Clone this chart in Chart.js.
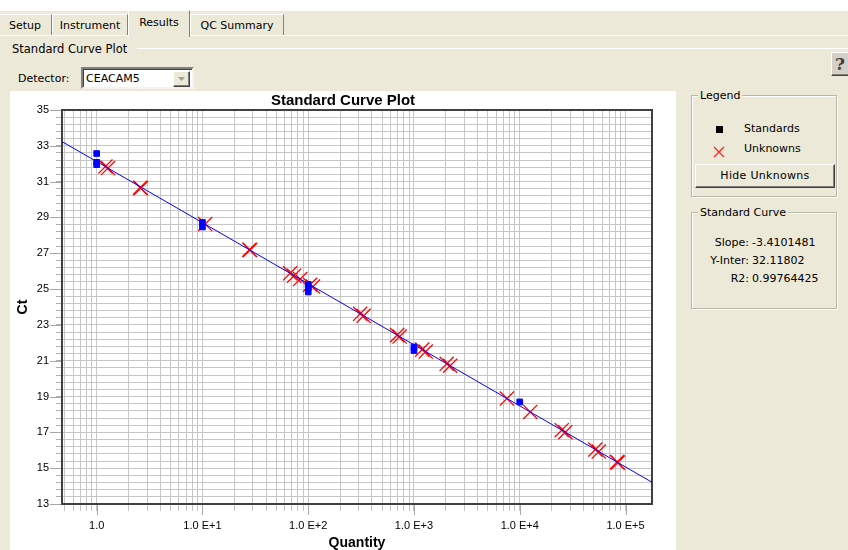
<!DOCTYPE html>
<html lang="en">
<head>
  <meta charset="UTF-8" />
  <title>Standard Curve Plot</title>
  <script src="https://cdn.jsdelivr.net/npm/chart.js"></script>
  <style>
    body {
      margin: 0;
      width: 848px;
      height: 550px;
      overflow: hidden;
      position: relative;
      background: #ece9d8;
      font-family: 'DejaVu Sans', sans-serif;
      font-size: 11px;
      color: #000;
    }
    .abs { position: absolute; }
    .topstrip { left: 0; top: 0; width: 848px; height: 11px; background: #fff; }
    .tab {
      top: 14px; height: 21px; line-height: 21px; text-align: center;
      border-top: 1px solid #fff; border-left: 1px solid #fff; border-right: 1px solid #808080;
      box-sizing: border-box; white-space: nowrap;
    }
    .tab.sel { top: 10px; height: 27px; line-height: 24px; background: #ece9d8; z-index: 2; }
    .hline { height: 1px; background: #fff; }
    .group {
      box-sizing: border-box;
      border: 1px solid #b9b8a8;
      box-shadow: inset 1px 1px 0 #fff, 1px 1px 0 #fff;
    }
    .glabel { background: #ece9d8; padding: 0 2px; line-height: 13px; }
    .btn {
      box-sizing: border-box; background: #ece9d8; text-align: center;
      border: 1px solid; border-color: #fff #404040 #404040 #fff;
      box-shadow: inset -1px -1px 0 #808080;
    }
    .combo {
      left: 81px; top: 67px; width: 113px; height: 22px; box-sizing: border-box; background: #fff;
      border: 2px solid; border-color: #808080 #f4f3ee #f4f3ee #808080;
      box-shadow: inset 1px 1px 0 #404040;
    }
    .combo span { position: absolute; left: 3px; top: 3px; }
    .drop { left: 90px; top: 2px; width: 17px; height: 16px; }
    #panel { left: 10px; top: 91px; width: 666px; height: 459px; background: #fff; }
    .row { left: 691px; width: 146px; }
    .row b { font-weight: normal; position: absolute; right: 88px; }
    .row i { font-style: normal; position: absolute; left: 61px; }
  </style>
</head>
<body>
  <!-- tab strip -->
  <div class="abs topstrip"></div>
  <div class="abs hline" style="left:0; top:35px; width:848px;"></div>
  <div class="abs tab" style="left:-2px; width:54px;">Setup</div>
  <div class="abs tab" style="left:52px; width:76px;">Instrument</div>
  <div class="abs tab sel" style="left:128px; width:62px;">Results</div>
  <div class="abs tab" style="left:190px; width:94px;">QC Summary</div>

  <!-- plot group -->
  <div class="abs hline" style="left:137px; top:48px; width:711px;"></div>
  <div class="abs" style="left:12px; top:42px; font-size:11.5px;">Standard Curve Plot</div>
  <div class="abs" style="left:18px; top:72px;">Detector:</div>
  <div class="abs combo">
    <span>CEACAM5</span>
    <div class="abs btn drop">
      <svg width="15" height="14" style="position:absolute;left:0;top:0">
        <path d="M4 5 L11 5 L7.5 9 Z" fill="#a0a0a0" />
      </svg>
    </div>
  </div>
  <div class="abs btn" style="left:831px; top:52px; width:22px; height:24px; background:#d4d0c8;">
    <span style="font: bold 17px 'DejaVu Serif', serif; color:#404040; position:absolute; left:3px; top:1px;">?</span>
  </div>

  <div id="panel" class="abs">
    <canvas id="curve" width="666" height="459"></canvas>
  </div>

  <!-- Legend -->
  <div class="abs group" style="left:691px; top:95px; width:146px; height:102px;"></div>
  <div class="abs glabel" style="left:698px; top:89px;">Legend</div>
  <div class="abs" style="left:716px; top:126px; width:7px; height:7px; background:#000;"></div>
  <div class="abs" style="left:744px; top:122px;">Standards</div>
  <svg class="abs" style="left:713px; top:146px;" width="12" height="12">
    <path d="M1 1 L11 11 M11 1 L1 11" stroke="#ff2020" stroke-width="1.2" />
  </svg>
  <div class="abs" style="left:744px; top:142px;">Unknowns</div>
  <div class="abs btn" style="left:695px; top:164px; width:140px; height:24px; line-height:22px; letter-spacing:0.3px;">Hide Unknowns</div>

  <!-- Standard Curve -->
  <div class="abs group" style="left:691px; top:212px; width:146px; height:97px;"></div>
  <div class="abs glabel" style="left:698px; top:206px;">Standard Curve</div>
  <div class="abs row" style="top:236px;"><b>Slope:</b><i id="slope"></i></div>
  <div class="abs row" style="top:254px;"><b>Y-Inter:</b><i id="inter"></i></div>
  <div class="abs row" style="top:272px;"><b>R2:</b><i id="r2"></i></div>

  <script>
    const chartTitle = "Standard Curve Plot";

    // fit of the standards
    const slope = -3.4101481;
    const intercept = 32.11802;
    const r2 = 0.99764425;

    // standards (blue squares)
    const stdQty = [1, 1, 1, 10, 10, 100, 100, 100, 1000, 1000, 10000];
    const stdCt  = [32.57, 32.08, 31.95, 28.72, 28.47, 25.26, 25.05, 24.84, 21.77, 21.57, 18.70];

    // unknowns (red crosses)
    const unkQty = [1.21, 1.28, 2.57, 2.62, 10.6, 27.8, 28.2, 67.4, 73.6, 83.8, 104, 111,
                    310, 334, 693, 732, 1196, 1291, 2038, 2200, 7570, 12570,
                    24950, 26980, 51800, 55900, 83100, 84500];
    const unkCt  = [31.84, 31.76, 30.66, 30.64, 28.63, 27.20, 27.18, 25.88, 25.75, 25.56, 25.24, 25.14,
                    23.62, 23.51, 22.43, 22.35, 21.62, 21.51, 20.83, 20.72, 18.89, 18.14,
                    17.12, 17.01, 16.04, 15.93, 15.34, 15.31];

    // axes
    const xMin = 0.47, xMax = 178000;
    const yMin = 13, yMax = 35;
    const xMajor = [1, 10, 100, 1000, 10000, 100000];
    const xLabels = ["1.0", "1.0 E+1", "1.0 E+2", "1.0 E+3", "1.0 E+4", "1.0 E+5"];
    const yLabels = [13, 15, 17, 19, 21, 23, 25, 27, 29, 31, 33, 35];

    document.getElementById("slope").textContent = " " + slope.toFixed(7);
    document.getElementById("inter").textContent = " " + intercept.toFixed(5);
    document.getElementById("r2").textContent = " " + r2.toFixed(8);

    // grid positions: 0.5..0.9, then 1..9 per decade
    const xGrid = [0.5, 0.6, 0.7, 0.8, 0.9];
    for (let d = 0; d < 5; d++) {
      for (let k = 1; k <= 9; k++) xGrid.push(k * Math.pow(10, d));
    }
    xGrid.push(100000);
    const yGrid = [];
    for (let i = 0; i <= 55; i++) yGrid.push(Math.round((yMin + i * 0.4) * 10) / 10);

    const fitAt = q => slope * Math.log10(q) + intercept;

    const frame = {
      id: "frame",
      beforeDatasetsDraw(chart) {
        const { ctx, chartArea: a, scales: { x, y } } = chart;
        ctx.save();
        ctx.strokeStyle = "#a8a8a8";
        ctx.lineWidth = 1;
        ctx.beginPath();
        yLabels.forEach(v => {
          const py = Math.round(y.getPixelForValue(v)) + 0.5;
          ctx.moveTo(a.left - 12, py);
          ctx.lineTo(a.left, py);
        });
        xMajor.forEach(v => {
          const px = Math.round(x.getPixelForValue(v)) + 0.5;
          ctx.moveTo(px, a.bottom);
          ctx.lineTo(px, a.bottom + 11);
        });
        ctx.stroke();
        ctx.strokeStyle = "#404040";
        ctx.lineWidth = 2;
        ctx.strokeRect(a.left, a.top, a.right - a.left, a.bottom - a.top);
        ctx.restore();
      },
      afterDraw(chart) {
        const ctx = chart.ctx;
        ctx.save();
        ctx.fillStyle = "#000";
        ctx.font = 'bold 15px "Liberation Sans", Arial, sans-serif';
        ctx.textAlign = "center";
        ctx.textBaseline = "middle";
        ctx.fillText(chartTitle, chart.width / 2, 10);
        ctx.restore();
      }
    };

    Chart.defaults.font.family = '"Liberation Sans", Arial, sans-serif';
    Chart.defaults.font.size = 11;
    Chart.defaults.color = "#000";

    new Chart(document.getElementById("curve"), {
      type: "scatter",
      data: {
        datasets: [
          {
            label: "Standards",
            data: stdQty.map((q, i) => ({ x: q, y: stdCt[i] })),
            pointStyle: "rect",
            pointRadius: 4,
            backgroundColor: "#0000ff",
            borderColor: "#0000ff",
            borderWidth: 1
          },
          {
            label: "Standard Curve",
            data: [{ x: xMin, y: fitAt(xMin) }, { x: xMax, y: fitAt(xMax) }],
            showLine: true,
            borderColor: "#0000ff",
            borderWidth: 1,
            pointRadius: 0
          },
          {
            label: "Unknowns",
            data: unkQty.map((q, i) => ({ x: q, y: unkCt[i] })),
            pointStyle: "crossRot",
            pointRadius: 10,
            borderColor: "#ff0000",
            borderWidth: 1.3
          }
        ]
      },
      options: {
        responsive: false,
        animation: false,
        layout: { padding: { left: 0, top: 19, right: 24, bottom: 0 } },
        plugins: { legend: { display: false }, tooltip: { enabled: false } },
        scales: {
          x: {
            type: "logarithmic",
            min: xMin,
            max: xMax,
            afterBuildTicks: s => { s.ticks = xGrid.map(v => ({ value: v })); },
            afterFit: s => { s.height = 46; },
            border: { display: false },
            grid: { color: "#c6c6c6", tickColor: "#c6c6c6", tickLength: 7 },
            ticks: {
              autoSkip: false,
              maxRotation: 0,
              padding: 8,
              callback: v => {
                const i = xMajor.findIndex(m => Math.abs(Math.log10(m) - Math.log10(v)) < 1e-6);
                return i < 0 ? "" : xLabels[i];
              }
            },
            title: {
              display: true,
              text: "Quantity",
              font: { size: 14, weight: "bold", lineHeight: 1 },
              padding: { top: 0, bottom: 0 }
            }
          },
          y: {
            type: "linear",
            min: yMin,
            max: yMax,
            afterBuildTicks: s => { s.ticks = yGrid.map(v => ({ value: v })); },
            afterFit: s => { s.width = 52; },
            border: { display: false },
            grid: { color: "#c6c6c6", tickColor: "#b0b0b0", tickLength: 6 },
            ticks: {
              autoSkip: false,
              padding: 7,
              callback: v => (yLabels.includes(v) ? String(v) : "")
            },
            title: {
              display: true,
              text: "Ct",
              font: { size: 14, weight: "bold", lineHeight: 1.2 },
              padding: { top: 5, bottom: 0 }
            }
          }
        }
      },
      plugins: [frame]
    });
  </script>
</body>
</html>
